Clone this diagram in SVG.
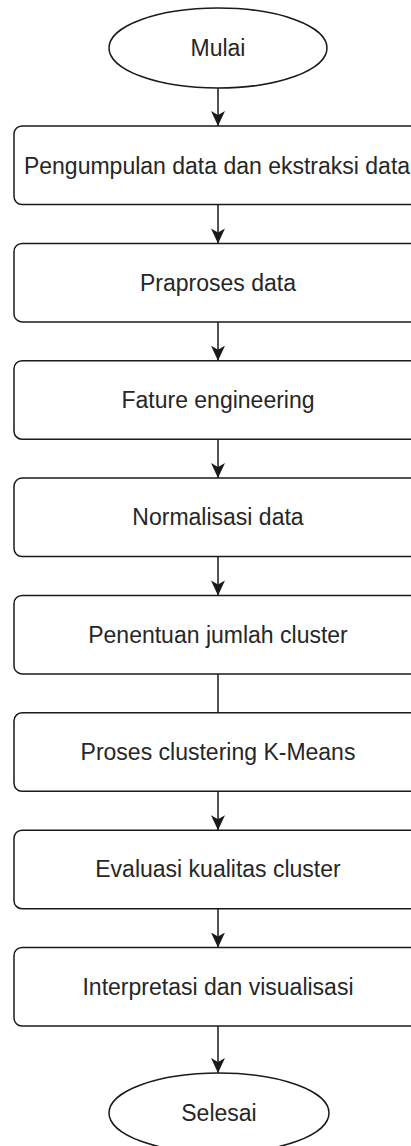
<svg xmlns="http://www.w3.org/2000/svg" width="411" height="1146" viewBox="0 0 411 1146">
<style>
.node{fill:#ffffff;stroke:#1a1a1a;stroke-width:1.5}
.lbl{font-family:"Liberation Sans",Arial,sans-serif;font-size:23px;fill:#262626;text-anchor:middle;dominant-baseline:central}
.edge{stroke:#1a1a1a;stroke-width:1.5;fill:none}
</style>
<defs>
<marker id="arr" markerUnits="userSpaceOnUse" markerWidth="16" markerHeight="16" viewBox="0 0 16 16" refX="15" refY="8" orient="auto">
<path d="M0,1 L15,8 L0,15 L4,8 Z" fill="#1a1a1a"/>
</marker>
</defs>
<rect width="411" height="1146" fill="#ffffff"/>
<g id="connectors">
<line class="edge" x1="218" y1="88" x2="218" y2="126" marker-end="url(#arr)"/>
<line class="edge" x1="218" y1="204.5" x2="218" y2="243.4" marker-end="url(#arr)"/>
<line class="edge" x1="218" y1="321.9" x2="218" y2="360.7" marker-end="url(#arr)"/>
<line class="edge" x1="218" y1="439.2" x2="218" y2="478.1" marker-end="url(#arr)"/>
<line class="edge" x1="218" y1="556.6" x2="218" y2="595.4" marker-end="url(#arr)"/>
<line class="edge" x1="218" y1="673.9" x2="218" y2="712.8"/>
<line class="edge" x1="218" y1="791.3" x2="218" y2="830.2" marker-end="url(#arr)"/>
<line class="edge" x1="218" y1="908.7" x2="218" y2="947.5" marker-end="url(#arr)"/>
<line class="edge" x1="218" y1="1026" x2="218" y2="1073" marker-end="url(#arr)"/>
</g>
<g id="mulai">
<ellipse class="node" cx="218" cy="48" rx="109" ry="40"/>
<text class="lbl" x="218" y="48">Mulai</text>
</g>
<g id="pengumpulan">
<rect class="node" x="14" y="126" width="408" height="78.5" rx="8"/>
<text class="lbl" x="217" y="166">Pengumpulan data dan ekstraksi data</text>
</g>
<g id="praproses">
<rect class="node" x="14" y="243.4" width="408" height="78.5" rx="8"/>
<text class="lbl" x="218" y="282.6">Praproses data</text>
</g>
<g id="fature">
<rect class="node" x="14" y="360.7" width="408" height="78.5" rx="8"/>
<text class="lbl" x="218" y="400">Fature engineering</text>
</g>
<g id="normalisasi">
<rect class="node" x="14" y="478.1" width="408" height="78.5" rx="8"/>
<text class="lbl" x="218" y="517.3">Normalisasi data</text>
</g>
<g id="penentuan">
<rect class="node" x="14" y="595.4" width="408" height="78.5" rx="8"/>
<text class="lbl" x="218" y="634.7">Penentuan jumlah cluster</text>
</g>
<g id="proses">
<rect class="node" x="14" y="712.8" width="408" height="78.5" rx="8"/>
<text class="lbl" x="218" y="752">Proses clustering K-Means</text>
</g>
<g id="evaluasi">
<rect class="node" x="14" y="830.2" width="408" height="78.5" rx="8"/>
<text class="lbl" x="218" y="869.4">Evaluasi kualitas cluster</text>
</g>
<g id="interpretasi">
<rect class="node" x="14" y="947.5" width="408" height="78.5" rx="8"/>
<text class="lbl" x="218" y="986.8">Interpretasi dan visualisasi</text>
</g>
<g id="selesai">
<ellipse class="node" cx="219" cy="1113" rx="110" ry="40"/>
<text class="lbl" x="219" y="1113">Selesai</text>
</g>
</svg>
